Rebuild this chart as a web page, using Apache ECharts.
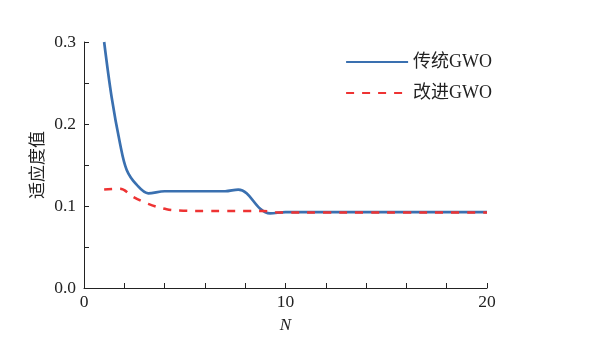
<!DOCTYPE html>
<html>
<head>
<meta charset="utf-8">
<script src="https://cdn.jsdelivr.net/npm/echarts@6/dist/echarts.min.js"></script>
<style>html,body{margin:0;padding:0;background:#fff;}#c{width:607px;height:344px;}</style>
</head>
<body>
<div id="c"></div>
<script>
var seriesNames = ['传统GWO', '改进GWO'];
var blueX = [1, 1.37, 1.79, 2.12, 2.61, 3.19, 4, 5, 6, 7, 7.66, 8.07, 8.73, 9.23, 10, 12, 14, 16, 18, 20];
var blueY = [0.300, 0.233, 0.176, 0.144, 0.126, 0.1155, 0.118, 0.118, 0.118, 0.118, 0.120, 0.1155, 0.097, 0.091, 0.0925, 0.0925, 0.0925, 0.0925, 0.0925, 0.0925];
var redX = [1, 1.79, 2.45, 3.19, 4.1, 4.93, 6, 7, 8, 8.9, 9.5, 10, 12, 14, 16, 18, 20];
var redY = [0.120, 0.121, 0.111, 0.1025, 0.096, 0.0943, 0.094, 0.094, 0.094, 0.094, 0.0925, 0.092, 0.092, 0.092, 0.092, 0.092, 0.092];
var xTicks = [0, 10, 20];
var yTicks = [0.0, 0.1, 0.2, 0.3];

function pairs(xs, ys) { return xs.map(function (x, i) { return [x, ys[i]]; }); }

var font = '"Liberation Serif", "Noto Sans CJK SC", serif';
var chart = echarts.init(document.getElementById('c'), null, {renderer: 'canvas'});
chart.setOption({
  animation: false,
  backgroundColor: '#fff',
  grid: {left: 84, right: 120, top: 42, bottom: 56, containLabel: false},
  legend: {
    orient: 'vertical', left: 340, top: 48, itemWidth: 62, itemHeight: 14, itemGap: 13,
    data: seriesNames,
    itemStyle: {opacity: 0},
    lineStyle: {width: 2.2},
    textStyle: {fontFamily: font, fontSize: 18, color: '#222', padding: [0, 0, 0, 0]}
  },
  xAxis: {
    type: 'value', min: xTicks[0], max: xTicks[xTicks.length - 1], interval: 10,
    name: 'N', nameLocation: 'middle', nameGap: 29,
    nameTextStyle: {fontFamily: font, fontSize: 17, fontStyle: 'italic', color: '#222'},
    axisLine: {lineStyle: {color: '#222', width: 1}},
    axisTick: {inside: true, length: 5, lineStyle: {color: '#222'}},
    minorTick: {show: true, splitNumber: 5, length: 5, lineStyle: {color: '#222'}},
    axisLabel: {fontFamily: font, fontSize: 17.5, color: '#222', margin: 6, formatter: function (v) { return String(v); }},
    splitLine: {show: false}
  },
  yAxis: {
    type: 'value', min: yTicks[0], max: yTicks[yTicks.length - 1], interval: 0.1,
    name: '适应度值', nameLocation: 'middle', nameGap: 37, nameRotate: 90, nameMoveOverlap: false,
    nameTextStyle: {fontFamily: font, fontSize: 17, color: '#222'},
    axisLine: {show: true, lineStyle: {color: '#222', width: 1}},
    axisTick: {show: true, inside: true, length: 5, lineStyle: {color: '#222'}},
    minorTick: {show: true, splitNumber: 2, length: 5, lineStyle: {color: '#222'}},
    axisLabel: {fontFamily: font, fontSize: 17.5, color: '#222', margin: 8, formatter: function (v) { return v.toFixed(1); }},
    splitLine: {show: false}
  },
  series: [
    {
      name: seriesNames[0], type: 'line', data: pairs(blueX, blueY), smooth: 0.35, symbol: 'none',
      lineStyle: {color: '#3a70b0', width: 2.7}, itemStyle: {color: '#3a70b0'}, z: 2
    },
    {
      name: seriesNames[1], type: 'line', data: pairs(redX, redY), smooth: 0.35, symbol: 'none',
      lineStyle: {color: '#ee3333', width: 2.5, type: [8, 8]}, itemStyle: {color: '#ee3333'}, z: 3
    }
  ]
});
</script>
</body>
</html>
